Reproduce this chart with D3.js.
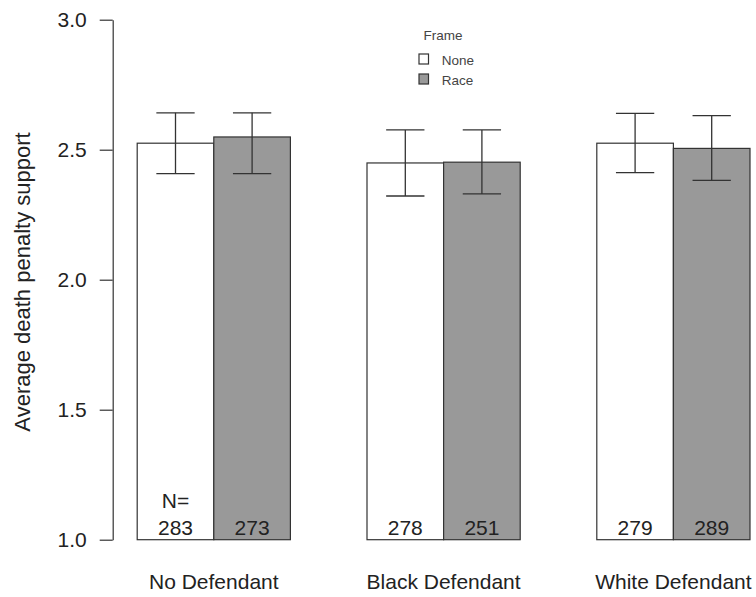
<!DOCTYPE html>
<html>
<head>
<meta charset="utf-8">
<script src="https://cdn.jsdelivr.net/npm/d3@7"></script>
<style>
  html, body { margin: 0; padding: 0; background: #fff; }
  svg { display: block; font-family: "Liberation Sans", Arial, sans-serif; }
</style>
</head>
<body>
<div id="chart"></div>
<script>
(function () {
  // data
  const categories = ["No Defendant", "Black Defendant", "White Defendant"];
  const frames = ["None", "Race"];
  const meanNone = [2.525, 2.449, 2.525];
  const meanRace = [2.549, 2.452, 2.505];
  const lowerNone = [2.408, 2.322, 2.412];
  const upperNone = [2.642, 2.576, 2.640];
  const lowerRace = [2.408, 2.330, 2.382];
  const upperRace = [2.642, 2.576, 2.631];
  const nNone = [283, 278, 279];
  const nRace = [273, 251, 289];
  const yTicks = [1.0, 1.5, 2.0, 2.5, 3.0];

  const width = 756, height = 597;
  const fill = { None: "#ffffff", Race: "#999999" };
  const ink = "#333";

  // flatten into one row per bar
  const rows = [];
  categories.forEach((c, i) => {
    rows.push({ cat: c, frame: "None", mean: meanNone[i], lo: lowerNone[i], hi: upperNone[i], n: nNone[i], first: i === 0 });
    rows.push({ cat: c, frame: "Race", mean: meanRace[i], lo: lowerRace[i], hi: upperRace[i], n: nRace[i], first: false });
  });

  const svg = d3.select("#chart").append("svg")
    .attr("width", width)
    .attr("height", height);

  const x0 = d3.scaleBand()
    .domain(categories)
    .range([137.2, 750])
    .paddingInner(1 / 3)
    .paddingOuter(0);

  const x1 = d3.scaleBand()
    .domain(frames)
    .range([0, x0.bandwidth()])
    .padding(0);

  const y = d3.scaleLinear()
    .domain([1, 3])
    .range([539.7, 19.7]);

  const bx = d => x0(d.cat) + x1(d.frame);
  const bw = x1.bandwidth();

  // bars
  svg.append("g")
    .selectAll("rect")
    .data(rows)
    .join("rect")
    .attr("x", bx)
    .attr("y", d => y(d.mean))
    .attr("width", bw)
    .attr("height", d => y(1) - y(d.mean))
    .attr("fill", d => fill[d.frame])
    .attr("stroke", ink)
    .attr("stroke-width", 1.2);

  // error bars
  const eb = svg.append("g")
    .attr("stroke", ink)
    .attr("stroke-width", 1.3)
    .selectAll("g")
    .data(rows)
    .join("g")
    .attr("transform", d => `translate(${bx(d) + bw / 2},0)`);

  eb.append("line")
    .attr("y1", d => y(d.lo))
    .attr("y2", d => y(d.hi));
  eb.append("line")
    .attr("x1", -bw / 4).attr("x2", bw / 4)
    .attr("y1", d => y(d.hi)).attr("y2", d => y(d.hi));
  eb.append("line")
    .attr("x1", -bw / 4).attr("x2", bw / 4)
    .attr("y1", d => y(d.lo)).attr("y2", d => y(d.lo));

  // N labels inside bars
  svg.append("g")
    .selectAll("text")
    .data(rows)
    .join("text")
    .attr("x", d => bx(d) + bw / 2)
    .attr("y", 535)
    .attr("text-anchor", "middle")
    .attr("fill", "#222")
    .style("font-size", "21px")
    .text(d => d.n);

  const firstRow = rows.find(d => d.first);
  svg.append("text")
    .attr("x", bx(firstRow) + bw / 2)
    .attr("y", 508)
    .attr("text-anchor", "middle")
    .attr("fill", "#222")
    .style("font-size", "21px")
    .text("N=");

  // Y axis
  svg.append("g")
    .attr("transform", "translate(112.7,0)")
    .call(d3.axisLeft(y)
      .tickValues(yTicks)
      .tickFormat(d3.format(".1f"))
      .tickSize(13)
      .tickSizeOuter(0)
      .tickPadding(13))
    .call(g => g.select(".domain").attr("stroke", ink).attr("stroke-width", 1.2))
    .call(g => g.selectAll(".tick line").attr("stroke", ink).attr("stroke-width", 1.2))
    .call(g => g.selectAll(".tick text")
      .attr("fill", "#222")
      .style("font-size", "21px")
      .style("font-family", "'Liberation Sans', Arial, sans-serif"));

  // category labels
  svg.append("g")
    .selectAll("text")
    .data(categories)
    .join("text")
    .attr("x", d => x0(d) + x0.bandwidth() / 2)
    .attr("y", 589)
    .attr("text-anchor", "middle")
    .attr("fill", "#222")
    .style("font-size", "21px")
    .text(d => d);

  // Y title
  svg.append("text")
    .attr("transform", "translate(30,282) rotate(-90)")
    .attr("text-anchor", "middle")
    .attr("fill", "#222")
    .style("font-size", "22px")
    .text("Average death penalty support");

  // legend
  const legend = svg.append("g");
  legend.append("text")
    .attr("x", 443)
    .attr("y", 39.5)
    .attr("text-anchor", "middle")
    .attr("fill", "#444")
    .style("font-size", "13.5px")
    .text("Frame");

  const item = legend.selectAll("g")
    .data(frames)
    .join("g")
    .attr("transform", (d, i) => `translate(419,${54 + i * 20})`);

  item.append("rect")
    .attr("width", 9.5)
    .attr("height", 10)
    .attr("fill", d => fill[d])
    .attr("stroke", ink)
    .attr("stroke-width", 1.2);

  item.append("text")
    .attr("x", 22.7)
    .attr("y", 10.5)
    .attr("fill", "#444")
    .style("font-size", "13.5px")
    .text(d => d);
})();
</script>
</body>
</html>
